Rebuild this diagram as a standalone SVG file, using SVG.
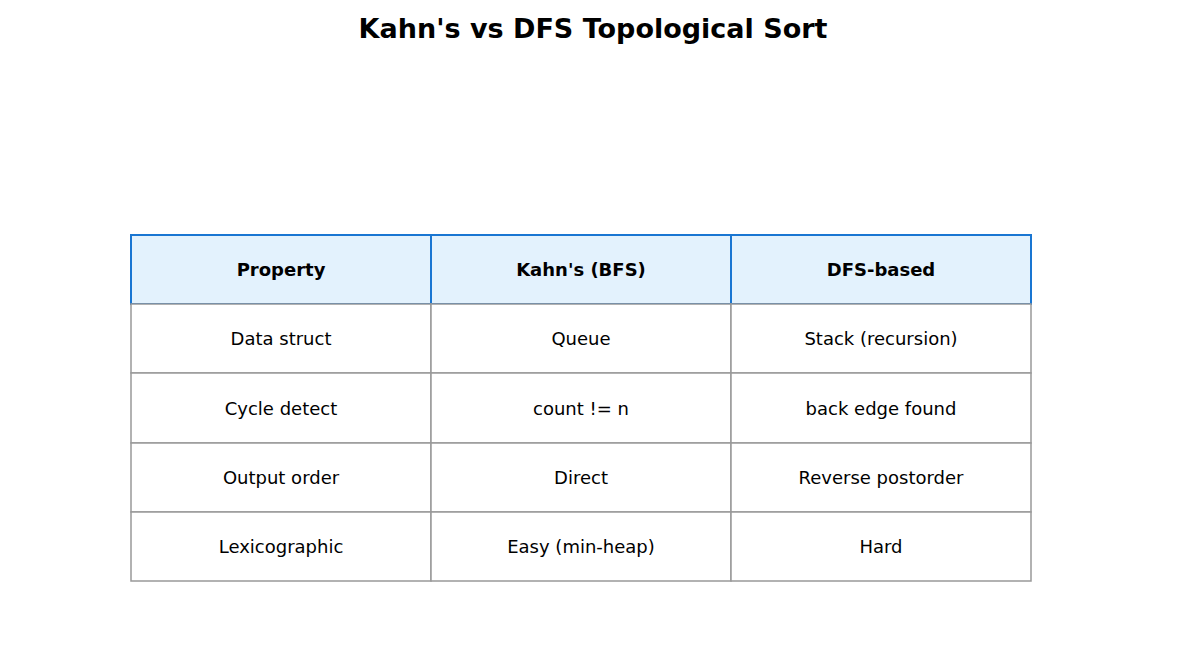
<svg xmlns="http://www.w3.org/2000/svg" width="1185" height="654" viewBox="0 0 1185 654">
<style>
text{font-family:"DejaVu Sans",sans-serif;text-anchor:middle;dominant-baseline:central;fill:#000}
.t{font-size:27px;font-weight:bold}
.h rect{fill:#e3f2fd;stroke:#1976d2;stroke-width:2}
.h text{font-size:18px;font-weight:bold}
.b rect{fill:#fff;stroke:#999;stroke-width:1.5}
.b text{font-size:18px}
</style>
<rect width="1185" height="654" fill="#fff"/>
<text class="t" x="593" y="28">Kahn's vs DFS Topological Sort</text>
<g id="header" class="h">
<rect x="131" y="235" width="300" height="69"/><text x="281" y="269.5">Property</text>
<rect x="431" y="235" width="300" height="69"/><text x="581" y="269.5">Kahn's (BFS)</text>
<rect x="731" y="235" width="300" height="69"/><text x="881" y="269.5">DFS-based</text>
</g>
<g id="row1" class="b">
<rect x="131" y="304" width="300" height="69"/><text x="281" y="338.5">Data struct</text>
<rect x="431" y="304" width="300" height="69"/><text x="581" y="338.5">Queue</text>
<rect x="731" y="304" width="300" height="69"/><text x="881" y="338.5">Stack (recursion)</text>
</g>
<g id="row2" class="b">
<rect x="131" y="373" width="300" height="70"/><text x="281" y="408">Cycle detect</text>
<rect x="431" y="373" width="300" height="70"/><text x="581" y="408">count != n</text>
<rect x="731" y="373" width="300" height="70"/><text x="881" y="408">back edge found</text>
</g>
<g id="row3" class="b">
<rect x="131" y="443" width="300" height="69"/><text x="281" y="477.5">Output order</text>
<rect x="431" y="443" width="300" height="69"/><text x="581" y="477.5">Direct</text>
<rect x="731" y="443" width="300" height="69"/><text x="881" y="477.5">Reverse postorder</text>
</g>
<g id="row4" class="b">
<rect x="131" y="512" width="300" height="69"/><text x="281" y="546.5">Lexicographic</text>
<rect x="431" y="512" width="300" height="69"/><text x="581" y="546.5">Easy (min-heap)</text>
<rect x="731" y="512" width="300" height="69"/><text x="881" y="546.5">Hard</text>
</g>
<g id="connectors"/>
</svg>
